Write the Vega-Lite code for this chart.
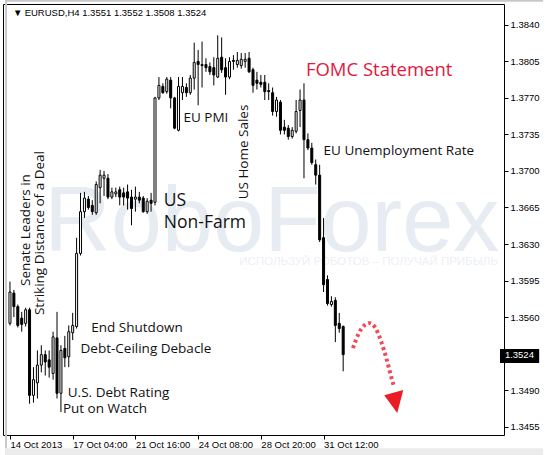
{
  "$schema": "https://vega.github.io/schema/vega-lite/v6.json",
  "width": 501,
  "height": 431,
  "autosize": {"type": "none"},
  "padding": {"left": 3, "top": 4, "right": 45, "bottom": 20},
  "background": "white",
  "config": {
    "view": {"stroke": "#000000", "strokeWidth": 1},
    "text": {"font": "Open Sans"}
  },
  "datasets": {
    "candles": [
      {"i":0,"o":1.3554,"h":1.3594,"l":1.3552,"c":1.3584},
      {"i":1,"o":1.3583,"h":1.3586,"l":1.3560,"c":1.3570},
      {"i":2,"o":1.3570,"h":1.3572,"l":1.3550,"c":1.3552},
      {"i":3,"o":1.3559,"h":1.3565,"l":1.3546,"c":1.3553},
      {"i":4,"o":1.3554,"h":1.3569,"l":1.3551,"c":1.3567},
      {"i":5,"o":1.3567,"h":1.3569,"l":1.3477,"c":1.3485},
      {"i":6,"o":1.3485,"h":1.3512,"l":1.3478,"c":1.3500},
      {"i":7,"o":1.3497,"h":1.3528,"l":1.3482,"c":1.3514},
      {"i":8,"o":1.3514,"h":1.3533,"l":1.3507,"c":1.3524},
      {"i":9,"o":1.3524,"h":1.3528,"l":1.3504,"c":1.3517},
      {"i":10,"o":1.3519,"h":1.3528,"l":1.3502,"c":1.3512},
      {"i":11,"o":1.3506,"h":1.3546,"l":1.3500,"c":1.3541},
      {"i":12,"o":1.3540,"h":1.3565,"l":1.3482,"c":1.3487},
      {"i":13,"o":1.3487,"h":1.3533,"l":1.3469,"c":1.3528},
      {"i":14,"o":1.3530,"h":1.3542,"l":1.3512,"c":1.3521},
      {"i":15,"o":1.3522,"h":1.3552,"l":1.3512,"c":1.3546},
      {"i":16,"o":1.3545,"h":1.3564,"l":1.3538,"c":1.3552},
      {"i":17,"o":1.3551,"h":1.3636,"l":1.3549,"c":1.3621},
      {"i":18,"o":1.3621,"h":1.3679,"l":1.3619,"c":1.3661},
      {"i":19,"o":1.3661,"h":1.3680,"l":1.3655,"c":1.3674},
      {"i":20,"o":1.3673,"h":1.3676,"l":1.3663,"c":1.3665},
      {"i":21,"o":1.3667,"h":1.3672,"l":1.3658,"c":1.3661},
      {"i":22,"o":1.3660,"h":1.3690,"l":1.3658,"c":1.3687},
      {"i":23,"o":1.3684,"h":1.3701,"l":1.3669,"c":1.3696},
      {"i":24,"o":1.3693,"h":1.3700,"l":1.3676,"c":1.3696},
      {"i":25,"o":1.3693,"h":1.3697,"l":1.3673,"c":1.3675},
      {"i":26,"o":1.3675,"h":1.3684,"l":1.3673,"c":1.3680},
      {"i":27,"o":1.3678,"h":1.3684,"l":1.3675,"c":1.3680},
      {"i":28,"o":1.3682,"h":1.3685,"l":1.3667,"c":1.3675},
      {"i":29,"o":1.3679,"h":1.3684,"l":1.3667,"c":1.3675},
      {"i":30,"o":1.3680,"h":1.3687,"l":1.3663,"c":1.3674},
      {"i":31,"o":1.3675,"h":1.3682,"l":1.3648,"c":1.3664},
      {"i":32,"o":1.3673,"h":1.3685,"l":1.3661,"c":1.3675},
      {"i":33,"o":1.3675,"h":1.3680,"l":1.3669,"c":1.3672},
      {"i":34,"o":1.3674,"h":1.3676,"l":1.3660,"c":1.3661},
      {"i":35,"o":1.3661,"h":1.3674,"l":1.3659,"c":1.3671},
      {"i":36,"o":1.3672,"h":1.3679,"l":1.3661,"c":1.3669},
      {"i":37,"o":1.3670,"h":1.3771,"l":1.3667,"c":1.3770},
      {"i":38,"o":1.3770,"h":1.3790,"l":1.3768,"c":1.3782},
      {"i":39,"o":1.3781,"h":1.3784,"l":1.3774,"c":1.3775},
      {"i":40,"o":1.3776,"h":1.3790,"l":1.3774,"c":1.3788},
      {"i":41,"o":1.3787,"h":1.3790,"l":1.3760,"c":1.3770},
      {"i":42,"o":1.3770,"h":1.3771,"l":1.3740,"c":1.3741},
      {"i":43,"o":1.3739,"h":1.3790,"l":1.3738,"c":1.3781},
      {"i":44,"o":1.3775,"h":1.3790,"l":1.3768,"c":1.3781},
      {"i":45,"o":1.3780,"h":1.3784,"l":1.3771,"c":1.3775},
      {"i":46,"o":1.3775,"h":1.3792,"l":1.3773,"c":1.3789},
      {"i":47,"o":1.3789,"h":1.3823,"l":1.3778,"c":1.3804},
      {"i":48,"o":1.3805,"h":1.3816,"l":1.3763,"c":1.3802},
      {"i":49,"o":1.3802,"h":1.3824,"l":1.3780,"c":1.3801},
      {"i":50,"o":1.3802,"h":1.3808,"l":1.3795,"c":1.3799},
      {"i":51,"o":1.3800,"h":1.3804,"l":1.3792,"c":1.3795},
      {"i":52,"o":1.3799,"h":1.3809,"l":1.3782,"c":1.3792},
      {"i":53,"o":1.3790,"h":1.3830,"l":1.3789,"c":1.3808},
      {"i":54,"o":1.3809,"h":1.3828,"l":1.3794,"c":1.3797},
      {"i":55,"o":1.3799,"h":1.3808,"l":1.3773,"c":1.3790},
      {"i":56,"o":1.3790,"h":1.3809,"l":1.3788,"c":1.3805},
      {"i":57,"o":1.3806,"h":1.3811,"l":1.3797,"c":1.3805},
      {"i":58,"o":1.3802,"h":1.3814,"l":1.3799,"c":1.3806},
      {"i":59,"o":1.3801,"h":1.3813,"l":1.3798,"c":1.3807},
      {"i":60,"o":1.3805,"h":1.3813,"l":1.3799,"c":1.3807},
      {"i":61,"o":1.3808,"h":1.3814,"l":1.3794,"c":1.3795},
      {"i":62,"o":1.3797,"h":1.3799,"l":1.3775,"c":1.3782},
      {"i":63,"o":1.3787,"h":1.3795,"l":1.3778,"c":1.3784},
      {"i":64,"o":1.3785,"h":1.3792,"l":1.3780,"c":1.3783},
      {"i":65,"o":1.3785,"h":1.3792,"l":1.3768,"c":1.3776},
      {"i":66,"o":1.3777,"h":1.3784,"l":1.3768,"c":1.3776},
      {"i":67,"o":1.3775,"h":1.3780,"l":1.3753,"c":1.3757},
      {"i":68,"o":1.3757,"h":1.3771,"l":1.3752,"c":1.3768},
      {"i":69,"o":1.3766,"h":1.3768,"l":1.3735,"c":1.3739},
      {"i":70,"o":1.3742,"h":1.3749,"l":1.3735,"c":1.3739},
      {"i":71,"o":1.3741,"h":1.3744,"l":1.3730,"c":1.3733},
      {"i":72,"o":1.3733,"h":1.3742,"l":1.3731,"c":1.3739},
      {"i":73,"o":1.3738,"h":1.3768,"l":1.3736,"c":1.3757},
      {"i":74,"o":1.3758,"h":1.3778,"l":1.3742,"c":1.3768},
      {"i":75,"o":1.3768,"h":1.3784,"l":1.3693,"c":1.3730},
      {"i":76,"o":1.3730,"h":1.3736,"l":1.3720,"c":1.3722},
      {"i":77,"o":1.3722,"h":1.3727,"l":1.3706,"c":1.3708},
      {"i":78,"o":1.3706,"h":1.3711,"l":1.3687,"c":1.3696},
      {"i":79,"o":1.3696,"h":1.3706,"l":1.3632,"c":1.3634},
      {"i":80,"o":1.3636,"h":1.3655,"l":1.3584,"c":1.3591},
      {"i":81,"o":1.3596,"h":1.3600,"l":1.3571,"c":1.3573},
      {"i":82,"o":1.3572,"h":1.3580,"l":1.3570,"c":1.3575},
      {"i":83,"o":1.3576,"h":1.3579,"l":1.3536,"c":1.3552},
      {"i":84,"o":1.3554,"h":1.3564,"l":1.3545,"c":1.3549},
      {"i":85,"o":1.3551,"h":1.3552,"l":1.3508,"c":1.3524}
    ],
    "frame": [
      {"i":-1.25,"i2":136,"p":1.38640,"p2":1.38621,"fill":"#c8c8c8"},
      {"i":-1.25,"i2":-0.75,"p":1.38640,"p2":1.34276,"fill":"#c8c8c8"},
      {"i":-1.25,"i2":136,"p":1.34343,"p2":1.34276,"fill":"#ececec"}
    ],
    "leftNotes": [
      {"i":75.5,"p":1.37968,"t":"FOMC Statement","size":18.5,"color":"#e5173d"},
      {"i":80,"p":1.37192,"t":"EU Unemployment Rate","size":13.5,"color":"#111111"},
      {"i":39.25,"p":1.36712,"t":"US","size":17.5,"color":"#111111"},
      {"i":39.25,"p":1.36501,"t":"Non-Farm","size":17.5,"color":"#111111"},
      {"i":44.25,"p":1.37508,"t":"EU PMI","size":13.5,"color":"#111111"},
      {"i":20.75,"p":1.35494,"t":"End Shutdown","size":13.5,"color":"#111111"},
      {"i":18,"p":1.35293,"t":"Debt-Ceiling Debacle","size":13.5,"color":"#111111"},
      {"i":14.75,"p":1.34871,"t":"U.S. Debt Rating","size":13.5,"color":"#111111"},
      {"i":13.5,"p":1.34717,"t":"Put on Watch","size":13.5,"color":"#111111"}
    ],
    "upNotes": [
      {"i":59.75,"p":1.37182,"t":"US Home Sales"},
      {"i":4,"p":1.36434,"t":"Senate Leaders in"},
      {"i":7.75,"p":1.36405,"t":"Striking Distance of a Deal"}
    ],
    "path": [
      {"i":87.5,"p":1.35302},
      {"i":89,"p":1.35446},
      {"i":90.5,"p":1.35523},
      {"i":91.75,"p":1.35542},
      {"i":93.25,"p":1.35494},
      {"i":94.75,"p":1.35360},
      {"i":96,"p":1.35207},
      {"i":97,"p":1.35063},
      {"i":98,"p":1.34928}
    ]
  },
  "layer": [
    {
      "data": {"values": [{"i":8.75,"p":1.36233,"t":"RoboForex"}]},
      "mark": {"type": "text", "font": "Liberation Sans", "fontSize": 92, "color": "#e7ecf2", "align": "left", "baseline": "alphabetic"},
      "encoding": {
        "x": {"field": "i", "type": "quantitative", "title": null,
          "scale": {"domain": [-0.5, 124.75], "nice": false, "zero": false},
          "axis": {"orient": "bottom", "values": [0, 16, 32, 48, 64, 80], "grid": false, "domain": false,
            "labelExpr": "datum.value == 0 ? '14 Oct 2013' : datum.value == 16 ? '17 Oct 04:00' : datum.value == 32 ? '21 Oct 16:00' : datum.value == 48 ? '24 Oct 08:00' : datum.value == 64 ? '28 Oct 20:00' : '31 Oct 12:00'",
            "labelAlign": "left", "labelBaseline": "middle", "labelPadding": 5, "tickSize": 4, "tickColor": "#000000",
            "labelFont": "Liberation Sans", "labelFontSize": 9.5, "labelColor": "#000000", "labelBound": false, "labelOverlap": false, "labelFlush": false, "title": null}},
        "y": {"field": "p", "type": "quantitative", "title": null,
          "scale": {"domain": [1.3447, 1.3860], "nice": false, "zero": false},
          "axis": {"orient": "right", "values": [1.3840, 1.3805, 1.3770, 1.3735, 1.3700, 1.3665, 1.3630, 1.3595, 1.3560, 1.3490, 1.3455],
            "format": ".4f", "grid": false, "domain": false, "tickSize": 4, "tickColor": "#000000", "labelPadding": 2,
            "labelFont": "Liberation Sans", "labelFontSize": 9.5, "labelColor": "#000000", "labelBound": false, "labelOverlap": false, "labelFlush": false, "title": null}},
        "text": {"field": "t"}
      }
    },
    {
      "data": {"name": "frame"},
      "mark": {"type": "rect"},
      "encoding": {
        "x": {"field": "i", "type": "quantitative", "title": null},
        "x2": {"field": "i2"},
        "y": {"field": "p", "type": "quantitative", "title": null},
        "y2": {"field": "p2"},
        "fill": {"field": "fill", "type": "nominal", "scale": null}
      }
    },
    {
      "data": {"values": [{"i":91.5,"p":1.36127,"t":"ИСПОЛЬЗУЙ РОБОТОВ – ПОЛУЧАЙ ПРИБЫЛЬ"}]},
      "mark": {"type": "text", "font": "Liberation Sans", "fontSize": 11.5, "color": "#edf0f5", "align": "center", "baseline": "middle"},
      "encoding": {
        "x": {"field": "i", "type": "quantitative", "title": null},
        "y": {"field": "p", "type": "quantitative", "title": null},
        "text": {"field": "t"}
      }
    },
    {
      "data": {"name": "candles"},
      "mark": {"type": "rule", "color": "#000000", "strokeWidth": 1},
      "encoding": {
        "x": {"field": "i", "type": "quantitative", "title": null},
        "y": {"field": "l", "type": "quantitative", "title": null},
        "y2": {"field": "h"}
      }
    },
    {
      "data": {"name": "candles"},
      "mark": {"type": "bar", "width": 2, "stroke": "#000000", "strokeWidth": 1},
      "encoding": {
        "x": {"field": "i", "type": "quantitative", "title": null},
        "y": {"field": "o", "type": "quantitative", "title": null},
        "y2": {"field": "c"},
        "fill": {"condition": {"test": "datum.c >= datum.o", "value": "#ffffff"}, "value": "#000000"}
      }
    },
    {
      "data": {"name": "leftNotes"},
      "mark": {"type": "text", "align": "left", "baseline": "middle"},
      "encoding": {
        "x": {"field": "i", "type": "quantitative", "title": null},
        "y": {"field": "p", "type": "quantitative", "title": null},
        "text": {"field": "t"},
        "size": {"field": "size", "type": "quantitative", "scale": null},
        "color": {"field": "color", "type": "nominal", "scale": null}
      }
    },
    {
      "data": {"name": "upNotes"},
      "mark": {"type": "text", "align": "center", "baseline": "middle", "angle": 270, "fontSize": 13.5, "color": "#111111"},
      "encoding": {
        "x": {"field": "i", "type": "quantitative", "title": null},
        "y": {"field": "p", "type": "quantitative", "title": null},
        "text": {"field": "t"}
      }
    },
    {
      "data": {"name": "path"},
      "mark": {"type": "line", "interpolate": "monotone", "color": "#ee2a3a", "strokeWidth": 4, "strokeDash": [3, 3], "opacity": 0.85},
      "encoding": {
        "x": {"field": "i", "type": "quantitative", "title": null},
        "y": {"field": "p", "type": "quantitative", "title": null}
      }
    },
    {
      "data": {"values": [{"i":98.2,"p":1.34811}]},
      "mark": {"type": "point", "shape": "M -0.78 -0.31 L 0.61 -0.68 L 0.17 1 Z", "size": 750, "filled": true, "color": "#ec1c24", "opacity": 1},
      "encoding": {
        "x": {"field": "i", "type": "quantitative", "title": null},
        "y": {"field": "p", "type": "quantitative", "title": null}
      }
    },
    {
      "data": {"values": [{"i":125,"i2":135,"p":1.35293,"p2":1.35159}]},
      "mark": {"type": "rect", "color": "#000000"},
      "encoding": {
        "x": {"field": "i", "type": "quantitative", "title": null},
        "x2": {"field": "i2"},
        "y": {"field": "p", "type": "quantitative", "title": null},
        "y2": {"field": "p2"}
      }
    },
    {
      "data": {"values": [{"i":126.25,"p":1.3524,"t":"1.3524"}]},
      "mark": {"type": "text", "font": "Liberation Sans", "fontSize": 9.5, "color": "#ffffff", "align": "left", "baseline": "middle"},
      "encoding": {
        "x": {"field": "i", "type": "quantitative", "title": null},
        "y": {"field": "p", "type": "quantitative", "title": null},
        "text": {"field": "t"}
      }
    },
    {
      "data": {"values": [{"i":0.75,"p":1.38515,"t":"▼"}, {"i":3.75,"p":1.38515,"t":"EURUSD,H4  1.3551 1.3552 1.3508 1.3524"}]},
      "mark": {"type": "text", "font": "Liberation Sans", "fontSize": 9.5, "color": "#000000", "align": "left", "baseline": "middle"},
      "encoding": {
        "x": {"field": "i", "type": "quantitative", "title": null},
        "y": {"field": "p", "type": "quantitative", "title": null},
        "text": {"field": "t"}
      }
    }
  ]
}
